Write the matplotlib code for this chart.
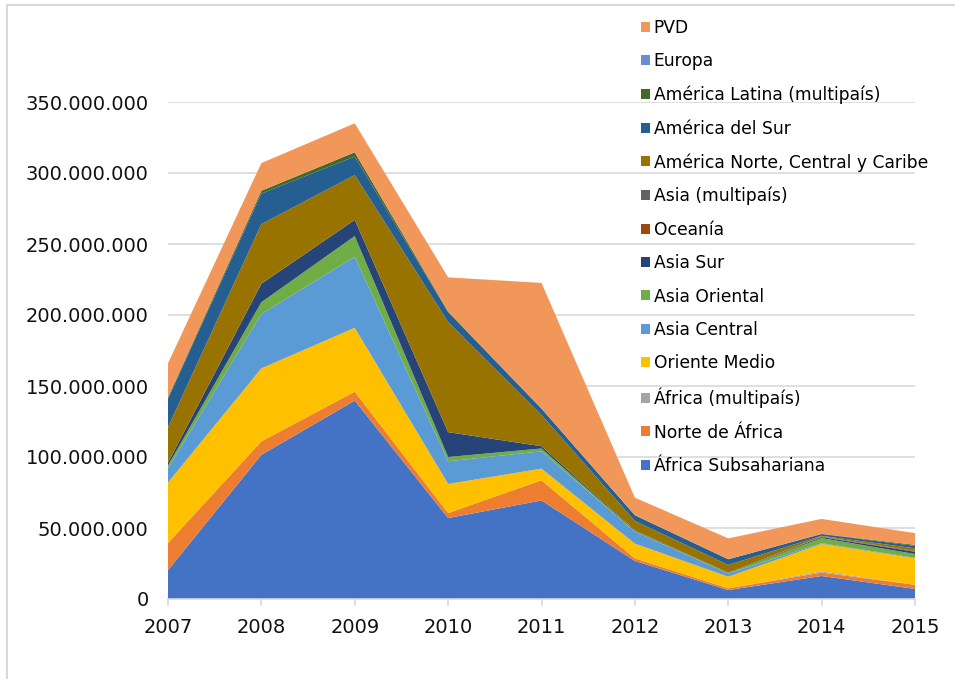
import matplotlib
matplotlib.use("Agg")
import matplotlib.pyplot as plt
from matplotlib.patches import Rectangle
from matplotlib.ticker import FuncFormatter, MultipleLocator

# Años
years = [2007, 2008, 2009, 2010, 2011, 2012, 2013, 2014, 2015]

# Valores por región (en millones), de abajo hacia arriba en la pila
africa_subsahariana = [20.3, 101.5, 139.7, 57.0, 69.4, 26.8, 6.3, 16.2, 7.1]
norte_africa = [19.1, 9.5, 6.3, 3.5, 14.2, 1.8, 1.2, 2.4, 2.9]
africa_multi = [0, 0, 0, 0, 0, 0, 0, 0.9, 0]
oriente_medio = [42.6, 51.4, 45.0, 20.5, 8.2, 10.4, 8.2, 19.3, 18.6]
asia_central = [10.0, 38.3, 50.0, 16.0, 12.2, 8.4, 2.3, 0.5, 0.4]
asia_oriental = [2.0, 8.3, 14.6, 3.0, 2.0, 0.5, 0.3, 3.6, 2.7]
asia_sur = [2.0, 13.0, 11.4, 17.5, 1.6, 0.5, 0.2, 0.7, 1.6]
oceania = [0, 0, 0, 0, 0, 0, 0, 0, 0]
asia_multi = [0, 0, 0, 0, 0, 0, 0, 0.4, 0.5]
america_norte = [25.0, 42.0, 31.6, 77.5, 22.0, 6.6, 5.5, 0.5, 1.9]
america_sur = [20.0, 21.5, 13.0, 7.0, 4.5, 4.0, 4.0, 1.2, 1.7]
america_latina = [1.0, 2.0, 3.0, 0.5, 0, 0, 0, 0.2, 0.7]
europa = [0, 0, 0, 0, 0, 0, 0, 0, 0]
pvd = [24.0, 19.5, 20.4, 24.0, 88.5, 12.4, 14.7, 10.5, 8.3]

labels = ["África Subsahariana", "Norte de África", "África (multipaís)",
          "Oriente Medio", "Asia Central", "Asia Oriental", "Asia Sur",
          "Oceanía", "Asia (multipaís)", "América Norte, Central y Caribe",
          "América del Sur", "América Latina (multipaís)", "Europa", "PVD"]
colors = ["#4472C4", "#ED7D31", "#A5A5A5", "#FFC000", "#5B9BD5", "#70AD47",
          "#264478", "#9E480E", "#636363", "#997300", "#255E91", "#43682B",
          "#698ED0", "#F1975A"]

series = [africa_subsahariana, norte_africa, africa_multi, oriente_medio,
          asia_central, asia_oriental, asia_sur, oceania, asia_multi,
          america_norte, america_sur, america_latina, europa, pvd]
series = [[v * 1e6 for v in s] for s in series]

W, H = 955, 679
fig = plt.figure(figsize=(W / 100, H / 100), dpi=100)
ax = fig.add_axes([168 / W, 1 - 599 / H, (915 - 168) / W, (599 - 102) / H])

polys = ax.stackplot(years, *series, colors=colors, labels=labels, linewidth=0)

ax.set_xlim(2007, 2015)
ax.set_ylim(0, 350e6)
ax.set_xticks(years)
ax.yaxis.set_major_locator(MultipleLocator(50e6))
ax.yaxis.set_major_formatter(FuncFormatter(lambda v, p: f"{int(v):,}".replace(",", ".")))

ax.grid(axis="y", color="#D9D9D9", linewidth=1.2)
ax.set_axisbelow(True)
for s in ["left", "right", "top"]:
    ax.spines[s].set_visible(False)
ax.spines["bottom"].set_color("#D9D9D9")
ax.spines["bottom"].set_linewidth(1.2)
ax.tick_params(axis="y", length=0, pad=14, labelsize=14, labelcolor="#111111")
ax.tick_params(axis="x", length=5, color="#D9D9D9", width=1.2, pad=9,
               labelsize=14, labelcolor="#111111")

# Leyenda en orden inverso (PVD arriba)
handles, lbls = ax.get_legend_handles_labels()
leg = fig.legend(handles[::-1], lbls[::-1], loc="upper left",
                 bbox_to_anchor=(641 / W, 1 - 19 / H), frameon=False,
                 fontsize=12.3, handlelength=0.52, handleheight=0.52,
                 handletextpad=0.22, labelspacing=0.9, borderpad=0,
                 borderaxespad=0)

# Marco del gráfico
fig.patches.append(Rectangle((7 / W, -0.1), 1.2, 1.1 - 5 / H, transform=fig.transFigure,
                             fill=False, edgecolor="#D9D9D9", linewidth=1.5))

fig.savefig("out.png", dpi=100)
